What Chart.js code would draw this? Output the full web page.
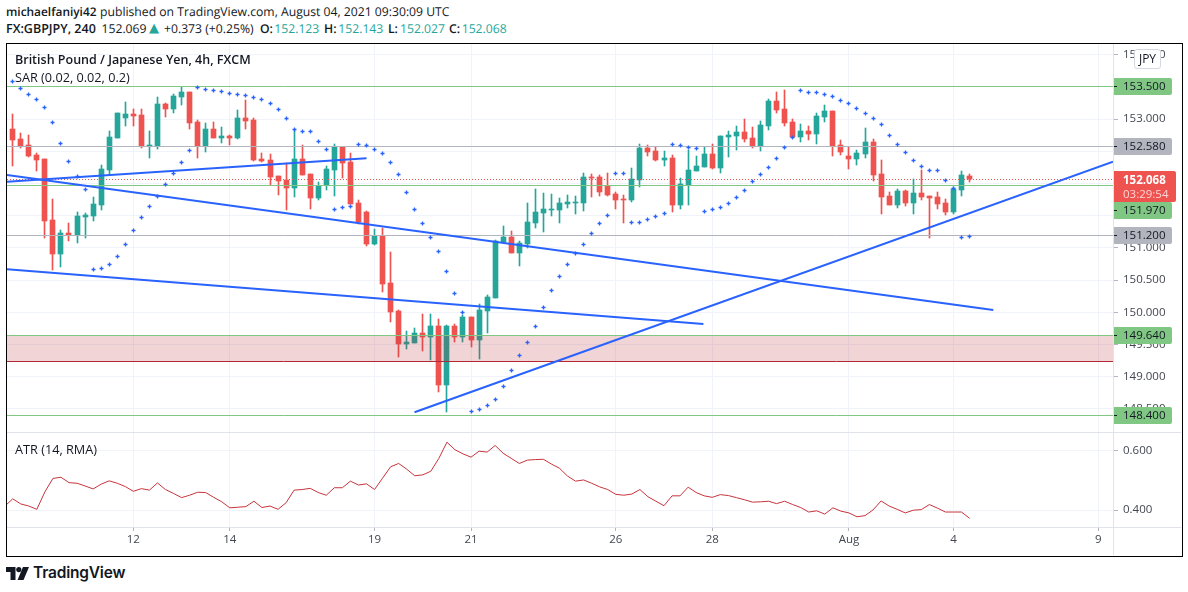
<!DOCTYPE html>
<html>
<head>
<meta charset="utf-8">
<title>GBPJPY 4h</title>
<script src="https://cdn.jsdelivr.net/npm/chart.js@4"></script>
<style>
body { margin: 0; background: #fff; width: 1188px; height: 592px; overflow: hidden; font-family: "Open Sans", sans-serif; color: #131722; }
.abs { position: absolute; white-space: nowrap; }
canvas { position: absolute; left: 7px; }
.h1, .h2 { font-size: 12.200px; line-height: 18px; text-rendering: geometricPrecision; }
.h1 { top: 3px; }
.h2 { top: 20px; }
.h1 b, .h2 b { font-weight: 600; }
.ohlc { color: #26a69a; }
#frame { left: 6px; top: 43px; width: 1175px; height: 512px; border: 1px solid #000; pointer-events: none; }
.sep { background: #e0e3eb; }
#jpy { left: 1134px; top: 49px; width: 25px; height: 18px; line-height: 18px; border: 1px solid #d6d8e0; border-radius: 3px; background: #fff; font-size: 12px; text-align: center; }
.legend { left: 15px; }
</style>
</head>
<body>
<div class="abs h1" style="left:6px"><b style="font-size:11.900px">michaelfaniyi42</b></div>
<div class="abs h1" style="left:100px">published on TradingView.com, August 04, 2021 09:30:09 UTC</div>
<div class="abs h2" style="left:6px"><b style="font-size:12.500px">FX:GBPJPY, 240</b></div>
<div class="abs h2" style="left:101.500px">152.069</div>
<div class="abs h2 ohlc" style="left:149px;font-family:'DejaVu Sans';font-size:13px">▲</div>
<div class="abs h2" style="left:164px">+0.373 (+0.25%)</div>
<div class="abs h2" style="left:260px"><b>O:</b></div>
<div class="abs h2 ohlc" style="left:274.300px">152.123</div>
<div class="abs h2" style="left:324px"><b>H:</b></div>
<div class="abs h2 ohlc" style="left:338.300px">152.143</div>
<div class="abs h2" style="left:388px"><b>L:</b></div>
<div class="abs h2 ohlc" style="left:400px">152.027</div>
<div class="abs h2" style="left:449px"><b>C:</b></div>
<div class="abs h2 ohlc" style="left:461.700px">152.068</div>

<canvas id="priceChart" width="1174" height="388" style="top:44px"></canvas>
<canvas id="atrChart" width="1174" height="123" style="top:432px"></canvas>

<div class="abs sep" style="left:7px;top:432px;width:1174px;height:1px"></div>
<div class="abs sep" style="left:7px;top:527px;width:1174px;height:1px"></div>
<div class="abs sep" style="left:1113px;top:44px;width:1px;height:511px"></div>
<div class="abs" id="frame"></div>

<div class="abs legend" style="top:51px;font-size:12.500px;font-weight:600;line-height:18px">British Pound / Japanese Yen, 4h, FXCM</div>
<div class="abs legend" style="top:69px;font-size:12.700px;line-height:17px">SAR (0.02, 0.02, 0.2)</div>
<div class="abs legend" style="top:441px;font-size:12.700px;line-height:17px">ATR (14, RMA)</div>
<div class="abs" id="jpy">JPY</div>

<svg class="abs" style="left:6px;top:567px" width="23" height="13" viewBox="0 0 23 13">
  <path d="M0 0h9.500v13H4.500V5H0z" fill="#131722"/>
  <circle cx="12.800" cy="2.600" r="2.600" fill="#131722"/>
  <path d="M17 0h6l-5.500 13h-6z" fill="#131722"/>
</svg>
<div class="abs" style="left:33px;top:563px;font-family:Inter,sans-serif;font-size:15.500px;font-weight:600;line-height:20px;letter-spacing:-0.2px">TradingView</div>

<script>
// candles, one every 4h
const opens = [152.845,152.690,152.596,152.441,152.379,151.433,150.905,151.231,151.200,151.479,151.495,151.666,152.209,152.705,153.015,153.077,153.062,152.581,152.581,153.233,153.155,153.341,153.419,152.953,152.581,152.845,152.705,152.736,152.705,153.015,152.984,152.379,152.364,152.115,152.059,151.929,152.379,152.146,151.774,151.976,152.209,152.565,152.333,151.697,151.557,151.060,151.185,150.455,150.021,149.509,149.524,149.679,149.617,149.788,148.873,149.788,149.617,149.928,149.571,150.021,150.222,151.091,151.169,150.921,151.060,151.386,151.541,151.588,151.588,151.681,151.696,151.696,152.100,152.100,151.960,151.836,151.759,151.743,152.053,152.550,152.503,152.364,152.395,151.665,151.976,152.193,152.255,152.457,152.239,152.720,152.736,152.798,152.705,152.581,152.891,153.279,153.155,152.953,152.720,152.814,152.767,153.031,153.124,152.596,152.426,152.379,152.457,152.643,152.146,151.805,151.665,151.883,151.696,151.852,151.805,151.789,151.696,151.557,151.898,152.123];
const highs = [153.083,152.783,152.752,152.472,152.379,151.759,151.278,151.386,151.557,151.541,151.790,152.286,152.814,153.093,153.264,153.155,153.155,152.814,153.341,153.248,153.388,153.496,153.419,152.984,152.938,152.953,152.876,152.752,153.140,153.295,153.015,152.472,152.457,152.115,152.317,152.845,152.596,152.146,152.022,152.271,152.612,152.565,152.472,151.743,151.572,151.293,151.309,150.936,150.036,149.710,149.757,149.974,149.974,149.897,149.804,149.819,149.959,149.928,150.129,150.269,151.122,151.340,151.262,151.107,151.696,151.914,151.852,151.836,151.774,151.821,151.805,152.162,152.146,152.131,152.162,151.867,151.821,152.240,152.612,152.596,152.565,152.503,152.441,152.084,152.519,152.426,152.565,152.612,152.736,152.814,152.891,153.000,152.876,152.969,153.310,153.419,153.450,153.000,152.922,152.891,153.093,153.217,153.124,152.674,152.565,152.519,152.860,152.689,152.364,151.867,151.914,151.898,152.069,152.208,151.805,151.867,151.758,151.945,152.193,152.143];
const lows = [152.271,152.550,152.410,152.193,151.153,150.657,150.704,151.107,151.076,151.153,151.417,151.588,152.146,152.705,152.891,152.891,152.550,152.395,152.534,153.031,153.093,153.217,152.845,152.395,152.488,152.705,152.627,152.596,152.690,152.845,152.348,152.333,151.976,151.821,151.588,151.790,152.131,151.603,151.743,151.898,151.805,152.084,151.681,151.371,151.029,151.045,150.316,149.850,149.307,149.431,149.524,149.400,149.260,148.764,148.454,149.540,149.540,149.462,149.276,149.679,150.222,151.091,150.921,150.719,150.998,151.309,151.247,151.495,151.386,151.619,151.526,151.572,151.790,151.805,151.805,151.603,151.386,151.712,151.945,152.426,152.348,152.270,151.557,151.603,151.665,152.193,152.255,152.224,152.162,152.410,152.519,152.643,152.550,152.503,152.829,153.093,152.891,152.705,152.643,152.674,152.612,152.953,152.426,152.441,152.224,152.286,152.395,152.038,151.526,151.665,151.619,151.650,151.526,151.743,151.153,151.603,151.510,151.526,151.805,152.027];
const closes = [152.674,152.581,152.426,152.364,151.417,150.905,151.231,151.200,151.495,151.510,151.681,152.224,152.721,153.093,153.077,153.046,152.581,152.596,153.233,153.155,153.357,153.419,152.938,152.581,152.845,152.705,152.736,152.705,153.015,152.969,152.364,152.348,152.100,152.038,151.929,152.379,152.131,151.774,151.960,152.224,152.565,152.317,151.681,151.402,151.060,151.185,150.440,150.005,149.509,149.540,149.679,149.617,149.788,148.873,149.788,149.617,149.928,149.571,150.036,150.238,151.107,151.169,150.921,151.076,151.402,151.557,151.603,151.603,151.696,151.712,151.712,152.100,152.084,151.867,151.821,151.743,151.743,152.069,152.550,152.488,152.364,152.395,151.665,151.991,152.208,152.270,152.457,152.239,152.736,152.751,152.798,152.689,152.581,152.907,153.279,153.139,152.938,152.720,152.814,152.767,153.046,153.124,152.581,152.488,152.379,152.472,152.643,152.131,151.789,151.665,151.883,151.696,151.852,151.789,151.774,151.681,151.557,151.914,152.131,152.068];

const sarValues = [153.589,153.476,153.383,153.305,153.181,152.948,152.622,152.343,152.105,151.909,150.667,150.683,150.745,150.869,151.055,151.272,151.474,151.645,151.800,151.986,152.157,152.328,152.514,153.491,153.460,153.445,153.429,153.398,153.383,153.367,153.336,153.305,153.243,153.150,153.010,152.840,152.809,152.809,152.653,152.529,151.598,151.629,151.645,152.607,152.591,152.529,152.467,152.327,152.141,151.862,151.598,151.381,151.164,150.947,150.636,150.295,150.000,148.464,148.495,148.557,148.650,148.852,149.100,149.333,149.535,149.783,150.078,150.341,150.559,150.745,150.916,151.055,151.226,151.381,151.505,152.157,152.157,151.397,151.397,151.443,151.490,151.536,152.607,152.591,152.560,152.545,151.567,151.598,151.629,151.691,151.784,151.893,152.033,152.141,152.250,152.389,152.560,152.715,153.445,153.413,153.413,153.382,153.351,153.289,153.243,153.165,153.088,153.010,152.917,152.746,152.607,152.483,152.358,152.265,152.203,152.203,152.048,151.924,151.164,151.179];

// atr starts one bar before the first visible candle
const atrValues = [0.413,0.438,0.421,0.414,0.403,0.461,0.506,0.510,0.492,0.490,0.481,0.471,0.487,0.498,0.490,0.479,0.463,0.472,0.467,0.491,0.469,0.456,0.442,0.450,0.460,0.459,0.443,0.428,0.408,0.410,0.412,0.430,0.409,0.414,0.403,0.425,0.467,0.469,0.473,0.459,0.450,0.475,0.475,0.497,0.484,0.488,0.469,0.507,0.545,0.556,0.537,0.515,0.518,0.530,0.573,0.627,0.602,0.588,0.577,0.597,0.594,0.616,0.590,0.573,0.556,0.567,0.569,0.570,0.554,0.540,0.514,0.497,0.501,0.490,0.478,0.469,0.453,0.450,0.454,0.469,0.445,0.430,0.415,0.448,0.448,0.477,0.459,0.448,0.443,0.452,0.449,0.442,0.435,0.427,0.428,0.430,0.422,0.430,0.419,0.409,0.394,0.398,0.387,0.408,0.397,0.391,0.378,0.382,0.401,0.431,0.414,0.403,0.391,0.400,0.402,0.419,0.407,0.394,0.394,0.394,0.373];

// x axis is in bars, tick positions are the bar number of each date label
const timeTicks = [15,27,45,57,75,87,104,117,135];
const timeLabels = ['12','14','19','21','26','28','Aug','4','9'];
const priceTicks = [148.5,149,149.5,150,150.5,151,151.5,152,152.5,153,153.5,154];
const atrTicks = [0.4,0.6];

const greenLevels = [153.5,151.97,149.64,148.4];
const greyLevels = [152.58,151.2];
const zoneTop = 149.64;
const zoneBottom = 149.24;
const lastPrice = 152.068;
const countdown = '03:29:54';

// trend lines: [bar, price, bar, price]
const trendLines = [
  [-0.71,152.027,44,152.39],
  [-0.71,152.131,121.95,150.036],
  [-0.71,150.668,85.9,149.819],
  [49.97,148.449,136.84,152.337]
];

const xMin = -0.71, xMax = 136.84;
const GREEN = '#26a69a', RED = '#ef5350', LEVEL_GREEN = '#81c784', LEVEL_GREY = '#b2b5be', BLUE = '#2962ff';
const GRID = '#f0f3fa', AXIS_TEXT = '#434651';
const LABEL_FONT = '11.500px "Open Sans", sans-serif';

Chart.defaults.font.family = '"Open Sans", sans-serif';
Chart.defaults.font.size = 11.5;

const hLine = (y, color, extra) => ({
  type: 'line',
  data: [{ x: xMin, y: y }, { x: xMax, y: y }],
  borderColor: color,
  borderWidth: 1,
  pointRadius: 0,
  order: 2,
  crisp: true,
  ...extra
});

// no room kept for half a tick label, the plot runs edge to edge
const noPadding = (s) => {
  s.paddingLeft = s.paddingRight = s.paddingTop = s.paddingBottom = 0;
};

// sit candles, crosses and level lines on whole pixels so they are not blurred
const crispPlugin = {
  id: 'crisp',
  beforeDatasetsDraw(chart) {
    const half = (v) => Math.round(v - 0.5) + 0.5;
    chart.data.datasets.forEach((ds, i) => {
      if (!ds.crisp) return;
      chart.getDatasetMeta(i).data.forEach((el) => {
        if (ds.type === 'line') {
          el.y = half(el.y);
          if (ds.showLine === false) el.x = half(el.x);
        } else {
          el.x = half(el.x);
          el.y = Math.round(el.y);
          el.base = Math.round(el.base);
          if (el.y === el.base) el.base += 1;
        }
      });
    });
  }
};

// price labels sitting on the axis
const badgePlugin = {
  id: 'badges',
  afterDraw(chart) {
    const ctx = chart.ctx;
    const yScale = chart.scales.y;
    const left = chart.chartArea.right;
    const lastTop = Math.round(yScale.getPixelForValue(lastPrice) - 8.5);
    const box = (top, w, h, color) => {
      ctx.fillStyle = color;
      ctx.beginPath();
      ctx.roundRect(left, top, w, h, [0, 2, 2, 0]);
      ctx.fill();
    };
    const badge = (value, color) => {
      let y = Math.floor(yScale.getPixelForValue(value));
      // pushed below the last price label when they would overlap
      if (y > lastTop && y < lastTop + 31) y = lastTop + 31 + 8;
      box(y - 8, 59, 17, color);
      ctx.fillStyle = '#131722';
      ctx.fillRect(left, y, 4, 1);
      ctx.font = LABEL_FONT;
      ctx.textAlign = 'left';
      ctx.textBaseline = 'middle';
      ctx.fillText(value.toFixed(3), left + 10, y + 0.5);
    };
    ctx.save();
    greyLevels.forEach(v => badge(v, LEVEL_GREY));
    greenLevels.forEach(v => badge(v, LEVEL_GREEN));
    box(lastTop, 63, 31, RED);
    ctx.fillStyle = '#fff';
    ctx.font = 'bold ' + LABEL_FONT;
    ctx.textAlign = 'left';
    ctx.textBaseline = 'middle';
    ctx.fillText(lastPrice.toFixed(3), left + 10, lastTop + 10);
    ctx.fillStyle = 'rgba(255,255,255,0.75)';
    ctx.font = LABEL_FONT;
    ctx.fillText(countdown, left + 10, lastTop + 24);
    ctx.restore();
  }
};

const xScale = (showLabels) => ({
  type: 'linear',
  min: xMin,
  max: xMax,
  offset: false,
  afterBuildTicks: (s) => { s.ticks = timeTicks.map(v => ({ value: v })); },
  afterFit: (s) => { s.height = showLabels ? 28 : 0; noPadding(s); },
  border: { display: false },
  grid: { color: GRID, offset: false, tickLength: showLabels ? 4 : 0, tickColor: '#b2b5be', drawTicks: showLabels },
  ticks: {
    display: showLabels,
    autoSkip: false,
    maxRotation: 0,
    padding: 2,
    color: AXIS_TEXT,
    callback: (v) => timeLabels[timeTicks.indexOf(v)]
  }
});

new Chart(document.getElementById('priceChart'), {
  type: 'bar',
  plugins: [crispPlugin, badgePlugin],
  data: {
    datasets: [
      ...trendLines.map(t => ({
        type: 'line',
        data: [{ x: t[0], y: t[1] }, { x: t[2], y: t[3] }],
        borderColor: BLUE,
        borderWidth: 2,
        pointRadius: 0,
        order: 0
      })),
      {
        type: 'line',
        data: sarValues.map((v, i) => ({ x: i, y: v })),
        showLine: false,
        pointStyle: 'cross',
        pointRadius: 2,
        pointBorderColor: BLUE,
        pointBorderWidth: 1.3,
        crisp: true,
        order: 1
      },
      hLine(lastPrice, RED, { borderDash: [1, 2] }),
      ...greenLevels.map(v => hLine(v, LEVEL_GREEN)),
      ...greyLevels.map(v => hLine(v, LEVEL_GREY)),
      hLine(zoneTop, LEVEL_GREEN, { fill: { value: zoneBottom }, backgroundColor: 'rgba(178,40,51,0.2)', order: 3 }),
      hLine(zoneBottom, '#b22833'),
      {
        data: opens.map((o, i) => ({ x: i, y: [o, closes[i]] })),
        backgroundColor: opens.map((o, i) => closes[i] >= o ? GREEN : RED),
        barThickness: 5,
        grouped: false,
        borderWidth: 0,
        crisp: true,
        order: 4
      },
      {
        data: lows.map((l, i) => ({ x: i, y: [l, highs[i]] })),
        backgroundColor: opens.map((o, i) => closes[i] >= o ? GREEN : RED),
        barThickness: 1,
        grouped: false,
        borderWidth: 0,
        crisp: true,
        order: 5
      }
    ]
  },
  options: {
    responsive: false,
    animation: false,
    events: [],
    layout: { padding: 0, autoPadding: false },
    plugins: { legend: { display: false }, tooltip: { enabled: false } },
    scales: {
      x: xScale(false),
      y: {
        position: 'right',
        min: 148.143,
        max: 154.164,
        afterBuildTicks: (s) => { s.ticks = priceTicks.map(v => ({ value: v })); },
        afterFit: (s) => { s.width = 68; noPadding(s); },
        border: { display: false },
        grid: { color: GRID, tickLength: 5, tickColor: '#b2b5be' },
        ticks: { padding: 5, color: AXIS_TEXT, callback: (v) => v.toFixed(3) }
      }
    }
  }
});

new Chart(document.getElementById('atrChart'), {
  type: 'line',
  data: {
    datasets: [{
      data: atrValues.map((v, i) => ({ x: i - 1, y: v })),
      borderColor: '#c7343c',
      borderWidth: 1,
      pointRadius: 0
    }]
  },
  options: {
    responsive: false,
    animation: false,
    events: [],
    layout: { padding: 0, autoPadding: false },
    plugins: { legend: { display: false }, tooltip: { enabled: false } },
    scales: {
      x: xScale(true),
      y: {
        position: 'right',
        min: 0.344,
        max: 0.661,
        afterBuildTicks: (s) => { s.ticks = atrTicks.map(v => ({ value: v })); },
        afterFit: (s) => { s.width = 68; noPadding(s); },
        border: { display: false },
        grid: { color: GRID, tickLength: 5, tickColor: '#b2b5be' },
        ticks: { padding: 5, color: AXIS_TEXT, callback: (v) => v.toFixed(3) }
      }
    }
  }
});
</script>
</body>
</html>
